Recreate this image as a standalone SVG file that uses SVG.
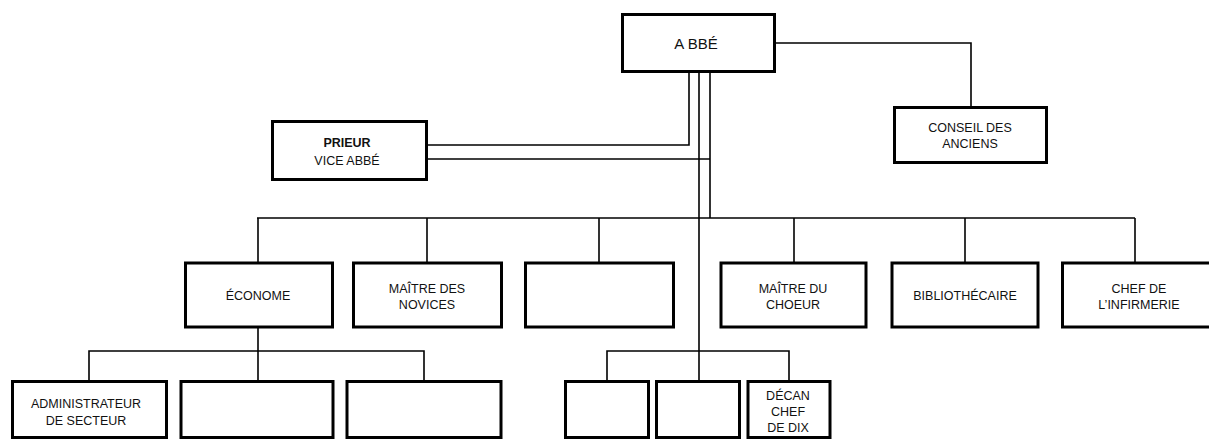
<svg xmlns="http://www.w3.org/2000/svg" width="1209" height="440" viewBox="0 0 1209 440">
  <style>
    .box { fill: #ffffff; stroke: #000000; stroke-width: 3; }
    .wire { fill: none; stroke: #000000; stroke-width: 1.6; }
    text { font-family: "Liberation Sans", Arial, sans-serif; font-size: 12.5px; fill: #111111; text-anchor: middle; }
    .big { font-size: 15px; }
    .bold { font-weight: bold; }
  </style>
  <rect width="1209" height="440" fill="#ffffff"/>

  <!-- connectors -->
  <g id="connectors" class="wire">
    <!-- abbé to conseil -->
    <polyline points="776,43 971,43 971,107"/>
    <!-- abbé to prieur (two links) -->
    <polyline points="689,72 689,145 427,145"/>
    <polyline points="427,159 710,159"/>
    <!-- abbé to officers bus -->
    <polyline points="710,72 710,218"/>
    <line x1="699" y1="72" x2="699" y2="381"/>
    <line x1="257" y1="218" x2="1135" y2="218"/>
    <line x1="258" y1="218" x2="258" y2="262"/>
    <line x1="427" y1="218" x2="427" y2="262"/>
    <line x1="599" y1="218" x2="599" y2="262"/>
    <line x1="794" y1="218" x2="794" y2="262"/>
    <line x1="965" y1="218" x2="965" y2="262"/>
    <line x1="1135" y1="218" x2="1135" y2="262"/>
    <!-- économe to sector staff -->
    <line x1="258" y1="328" x2="258" y2="381"/>
    <polyline points="89,381 89,351 424,351 424,381"/>
    <!-- deans -->
    <polyline points="607,381 607,351 789,351 789,381"/>
  </g>

  <g id="abbe">
    <rect class="box" x="622.5" y="14.5" width="152" height="57"/>
    <text class="big" x="696" y="49">A BBÉ</text>
  </g>

  <g id="conseil">
    <rect class="box" x="894.5" y="107.5" width="152" height="55"/>
    <text x="970" y="132">CONSEIL DES</text>
    <text x="970" y="148">ANCIENS</text>
  </g>

  <g id="prieur">
    <rect class="box" x="272.5" y="121.5" width="154" height="58"/>
    <text class="bold" x="347" y="147">PRIEUR</text>
    <text x="347" y="165">VICE ABBÉ</text>
  </g>

  <g id="econome">
    <rect class="box" x="185.5" y="263" width="147" height="64"/>
    <text x="258" y="300">ÉCONOME</text>
  </g>

  <g id="maitre-novices">
    <rect class="box" x="353.5" y="263" width="148" height="64"/>
    <text x="427" y="293">MAÎTRE DES</text>
    <text x="427" y="309">NOVICES</text>
  </g>

  <g id="office-vide">
    <rect class="box" x="525.5" y="263" width="148" height="64"/>
  </g>

  <g id="maitre-choeur">
    <rect class="box" x="721" y="263" width="145" height="64"/>
    <text x="793" y="293">MAÎTRE DU</text>
    <text x="793" y="309">CHOEUR</text>
  </g>

  <g id="bibliothecaire">
    <rect class="box" x="892" y="263" width="146" height="64"/>
    <text x="965" y="300">BIBLIOTHÉCAIRE</text>
  </g>

  <g id="infirmerie">
    <rect class="box" x="1062.5" y="263" width="148" height="64"/>
    <text x="1139" y="293">CHEF DE</text>
    <text x="1139" y="309">L’INFIRMERIE</text>
  </g>

  <g id="administrateur">
    <rect class="box" x="12.5" y="381.5" width="154" height="56"/>
    <text x="86" y="408">ADMINISTRATEUR</text>
    <text x="86" y="425">DE SECTEUR</text>
  </g>

  <g id="secteur-2">
    <rect class="box" x="181" y="381.5" width="152" height="56"/>
  </g>

  <g id="secteur-3">
    <rect class="box" x="347" y="381.5" width="154" height="56"/>
  </g>

  <g id="doyen-1">
    <rect class="box" x="565.5" y="381.5" width="83" height="56"/>
  </g>

  <g id="doyen-2">
    <rect class="box" x="656.5" y="381.5" width="83" height="56"/>
  </g>

  <g id="decan">
    <rect class="box" x="748" y="381.5" width="82" height="56"/>
    <text x="788" y="400">DÉCAN</text>
    <text x="788" y="416">CHEF</text>
    <text x="788" y="432">DE DIX</text>
  </g>
</svg>
